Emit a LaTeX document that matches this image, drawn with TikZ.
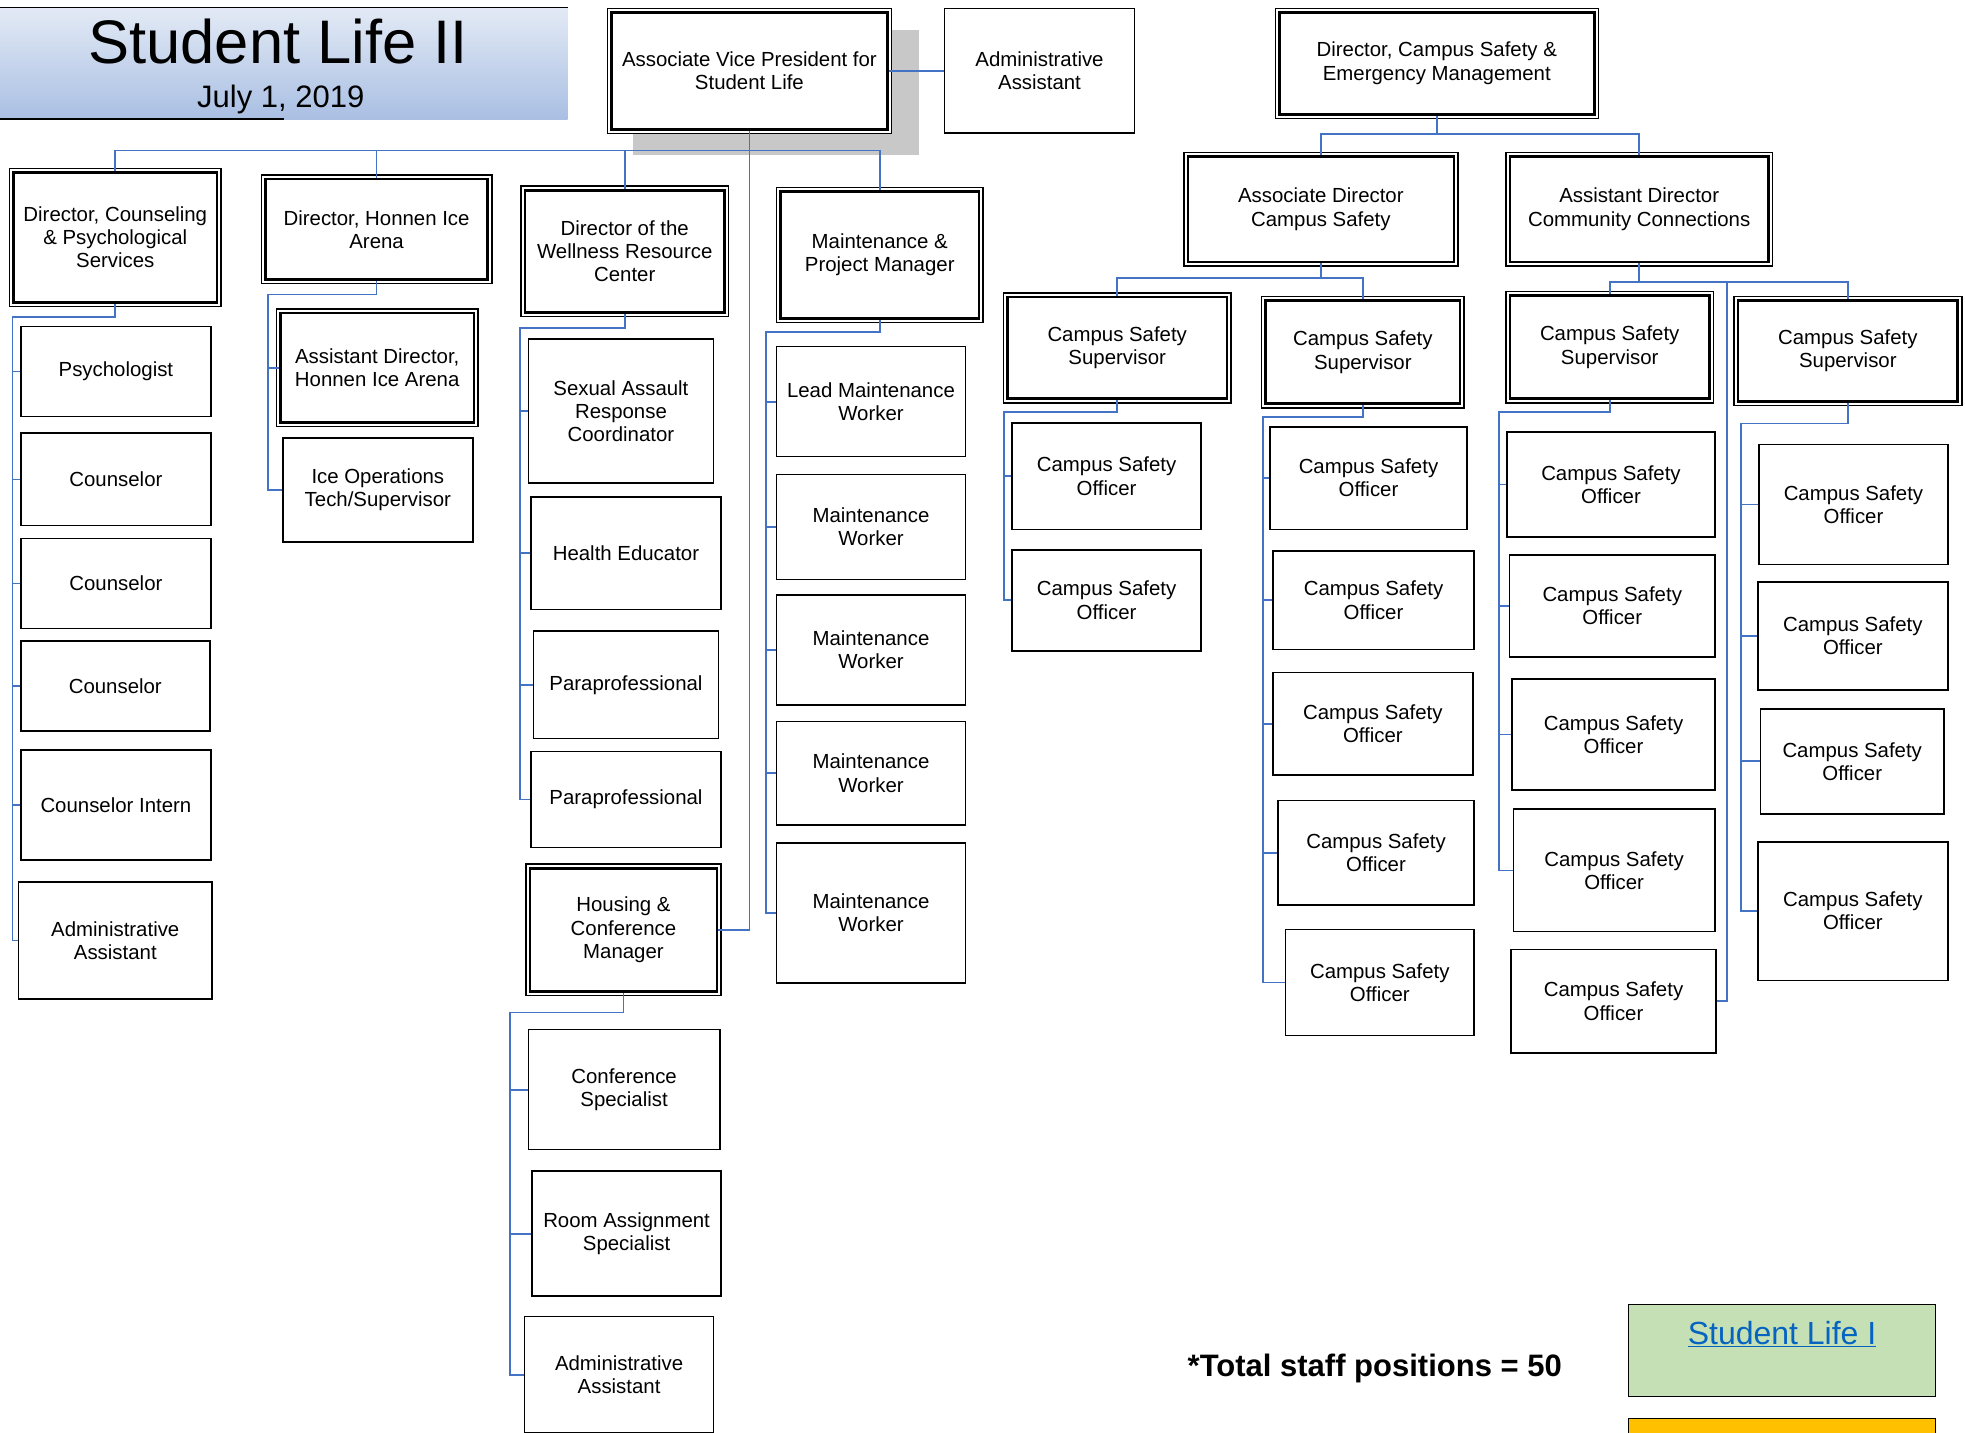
\documentclass[tikz,border=0pt]{standalone}
\usepackage{fontspec}
\setmainfont{Liberation Sans}

\definecolor{linkblue}{HTML}{4472C4}
\definecolor{shadowgray}{HTML}{C8C8C8}
\definecolor{bannertop}{HTML}{E3EAF5}
\definecolor{bannerbottom}{HTML}{A9BFE3}
\definecolor{slgreen}{HTML}{C5E0B4}
\definecolor{slorange}{HTML}{FFC000}
\definecolor{hyperblue}{HTML}{0563C1}

\tikzset{
	corners/.style n args={4}{at={({(#1+#3)/2},{(#2+#4)/2})},
		minimum width={(#3-#1)*1.2532pt-1.6pt}, minimum height={(#4-#2)*1.2532pt-1.6pt}},
	dcorners/.style n args={4}{at={({(#1+#3)/2},{(#2+#4)/2})},
		minimum width={(#3-#1)*1.2532pt-9.6pt}, minimum height={(#4-#2)*1.2532pt-9.6pt}},
	box/.style={draw, fill=white, line width=1.6pt, inner sep=1pt, align=center,
		font=\fontsize{20.4}{23.2}\selectfont},
	dbox/.style={box, line width=2.6pt,
		preaction={draw, line width=9.6pt}, preaction={draw=white, line width=6.6pt}},
	conn/.style={draw=linkblue, line width=1.7pt}
}

\begin{document}
\begin{tikzpicture}[x=1.2532pt, y=-1.2532pt]
\useasboundingbox (0,0) rectangle (1568,1142.7);
\clip (0,0) rectangle (1568,1142.7);

%title banner
\shade[top color=bannertop, bottom color=bannerbottom] (0,6) rectangle (453,95);
\draw[line width=1.5pt] (0,6) -- (453,6);
\draw[line width=1.5pt] (0,95) -- (227,95);
\node[anchor=base, inner sep=0pt, font=\fontsize{61.5}{61.5}\selectfont] (title) at (222,51) {Student Life II};
\node[anchor=base, inner sep=0pt, font=\fontsize{31}{31}\selectfont] (date) at (224,86) {July 1, 2019};

%vice president
\fill[shadowgray] (505,24) rectangle (733,124);
\node[dbox, dcorners={484}{6}{712}{107}] (avp) {Associate Vice President for\\Student Life};
\node[box, corners={753}{6}{906}{107}] (avpaa) {Administrative\\Assistant};

%directors
\node[dbox, dcorners={7}{134}{177}{245}] (dcp) {Director, Counseling\\\& Psychological\\Services};
\node[dbox, dcorners={208}{139}{393}{227}] (dhi) {Director, Honnen Ice\\Arena};
\node[dbox, dcorners={415}{148}{582}{253}] (dwr) {Director of the\\Wellness Resource\\Center};
\node[dbox, dcorners={619}{149}{785}{258}] (mpm) {Maintenance \&\\Project Manager};

%counseling staff
\node[box, corners={16}{260}{169}{333}] (psy) {Psychologist};
\node[box, corners={16}{345}{169}{420}] (coua) {Counselor};
\node[box, corners={16}{429}{169}{502}] (coub) {Counselor};
\node[box, corners={16}{511}{168}{584}] (couc) {Counselor};
\node[box, corners={16}{598}{169}{687}] (couint) {Counselor Intern};
\node[box, corners={14}{703}{170}{798}] (cpaa) {Administrative\\Assistant};

%ice arena staff
\node[dbox, dcorners={220}{246}{382}{341}] (adh) {Assistant Director,\\Honnen Ice Arena};
\node[box, corners={225}{349}{378}{433}] (ice) {Ice Operations\\Tech/Supervisor};

%wellness staff
\node[box, corners={421}{270}{570}{386}] (sar) {Sexual Assault\\Response\\Coordinator};
\node[box, corners={423}{396}{576}{487}] (hed) {Health Educator};
\node[box, corners={425}{503}{574}{590}] (ppa) {Paraprofessional};
\node[box, corners={423}{599}{576}{677}] (ppb) {Paraprofessional};

%housing
\node[dbox, dcorners={419}{689}{576}{795}] (hcm) {Housing \&\\Conference\\Manager};
\node[box, corners={421}{821}{575}{918}] (csp) {Conference\\Specialist};
\node[box, corners={424}{934}{576}{1035}] (ras) {Room Assignment\\Specialist};
\node[box, corners={418}{1050}{570}{1144}] (hcaa) {Administrative\\Assistant};

%maintenance staff
\node[box, corners={619}{276}{771}{365}] (lmw) {Lead Maintenance\\Worker};
\node[box, corners={619}{378}{771}{463}] (mwa) {Maintenance\\Worker};
\node[box, corners={619}{474}{771}{563}] (mwb) {Maintenance\\Worker};
\node[box, corners={619}{575}{771}{659}] (mwc) {Maintenance\\Worker};
\node[box, corners={619}{672}{771}{785}] (mwd) {Maintenance\\Worker};

%campus safety
\node[dbox, dcorners={1017}{6}{1276}{95}] (dcs) {Director, Campus Safety \&\\Emergency Management};
\node[dbox, dcorners={944}{121}{1164}{213}] (adc) {Associate Director\\Campus Safety};
\node[dbox, dcorners={1201}{121}{1415}{213}] (asd) {Assistant Director\\Community Connections};

%supervisors
\node[dbox, dcorners={800}{233}{983}{322}] (supa) {Campus Safety\\Supervisor};
\node[dbox, dcorners={1006}{236}{1169}{326}] (supb) {Campus Safety\\Supervisor};
\node[dbox, dcorners={1201}{232}{1368}{322}] (supc) {Campus Safety\\Supervisor};
\node[dbox, dcorners={1383}{236}{1566}{324}] (supd) {Campus Safety\\Supervisor};

%officers
\node[box, corners={807}{337}{959}{423}] (offaa) {Campus Safety\\Officer};
\node[box, corners={807}{438}{959}{520}] (offab) {Campus Safety\\Officer};

\node[box, corners={1013}{340}{1171}{423}] (offba) {Campus Safety\\Officer};
\node[box, corners={1015}{439}{1177}{519}] (offbb) {Campus Safety\\Officer};
\node[box, corners={1015}{536}{1176}{619}] (offbc) {Campus Safety\\Officer};
\node[box, corners={1019}{638}{1177}{723}] (offbd) {Campus Safety\\Officer};
\node[box, corners={1025}{741}{1177}{827}] (offbe) {Campus Safety\\Officer};

\node[box, corners={1202}{344}{1369}{429}] (offca) {Campus Safety\\Officer};
\node[box, corners={1204}{442}{1369}{525}] (offcb) {Campus Safety\\Officer};
\node[box, corners={1206}{541}{1369}{631}] (offcc) {Campus Safety\\Officer};
\node[box, corners={1207}{645}{1369}{744}] (offcd) {Campus Safety\\Officer};
\node[box, corners={1205}{757}{1370}{841}] (offce) {Campus Safety\\Officer};

\node[box, corners={1403}{354}{1555}{451}] (offda) {Campus Safety\\Officer};
\node[box, corners={1402}{464}{1555}{551}] (offdb) {Campus Safety\\Officer};
\node[box, corners={1404}{565}{1552}{650}] (offdc) {Campus Safety\\Officer};
\node[box, corners={1402}{671}{1555}{783}] (offdd) {Campus Safety\\Officer};

%connectors student life
\coordinate (vpbus) at (0,120);
\draw[conn] (avp.east) -- (avpaa.west);
\draw[conn] (dcp.north) -- (dcp.north |- vpbus) -| (mpm.north);
\draw[conn] (dhi.north) -- (dhi.north |- vpbus);
\draw[conn] (dwr.north) -- (dwr.north |- vpbus);
\draw[conn] (avp.south) |- (hcm.east);

\coordinate (cpbus) at (10,253);
\draw[conn] (dcp.south) |- (cpbus) |- (psy.west);
\draw[conn] (cpbus) |- (coua.west);
\draw[conn] (cpbus) |- (coub.west);
\draw[conn] (cpbus) |- (couc.west);
\draw[conn] (cpbus) |- (couint.west);
\draw[conn] (cpbus) |- (cpaa.west);

\coordinate (hibus) at (214,235);
\draw[conn] (dhi.south) |- (hibus) |- (adh.west);
\draw[conn] (hibus) |- (ice.west);

\coordinate (wrbus) at (415,262);
\draw[conn] (dwr.south) |- (wrbus) |- (sar.west);
\draw[conn] (wrbus) |- (hed.west);
\draw[conn] (wrbus) |- (ppa.west);
\draw[conn] (wrbus) |- (ppb.west);

\coordinate (hcbus) at (407,808);
\draw[conn] (hcm.south) |- (hcbus) |- (csp.west);
\draw[conn] (hcbus) |- (ras.west);
\draw[conn] (hcbus) |- (hcaa.west);

\coordinate (mpbus) at (611,265);
\draw[conn] (mpm.south) |- (mpbus) |- (lmw.west);
\draw[conn] (mpbus) |- (mwa.west);
\draw[conn] (mpbus) |- (mwb.west);
\draw[conn] (mpbus) |- (mwc.west);
\draw[conn] (mpbus) |- (mwd.west);

%connectors campus safety
\coordinate (csbus) at (0,107);
\draw[conn] (dcs.south) -- (dcs.south |- csbus);
\draw[conn] (adc.north) -- (adc.north |- csbus) -| (asd.north);

\coordinate (adbus) at (0,222);
\draw[conn] (adc.south) -- (adc.south |- adbus);
\draw[conn] (supa.north) -- (supa.north |- adbus) -| (supb.north);

\coordinate (asbus) at (0,225);
\coordinate (asdrop) at (1378,225);
\draw[conn] (asd.south) -- (asd.south |- asbus);
\draw[conn] (supc.north) -- (supc.north |- asbus) -| (supd.north);
\draw[conn] (asdrop) |- (offce.east);

\coordinate (sabus) at (801,329);
\draw[conn] (supa.south) |- (sabus) |- (offaa.west);
\draw[conn] (sabus) |- (offab.west);

\coordinate (sbbus) at (1008,333);
\draw[conn] (supb.south) |- (sbbus) |- (offba.west);
\draw[conn] (sbbus) |- (offbb.west);
\draw[conn] (sbbus) |- (offbc.west);
\draw[conn] (sbbus) |- (offbd.west);
\draw[conn] (sbbus) |- (offbe.west);

\coordinate (scbus) at (1196,329);
\draw[conn] (supc.south) |- (scbus) |- (offca.west);
\draw[conn] (scbus) |- (offcb.west);
\draw[conn] (scbus) |- (offcc.west);
\draw[conn] (scbus) |- (offcd.west);

\coordinate (sdbus) at (1389,338);
\draw[conn] (supd.south) |- (sdbus) |- (offda.west);
\draw[conn] (sdbus) |- (offdb.west);
\draw[conn] (sdbus) |- (offdc.west);
\draw[conn] (sdbus) |- (offdd.west);

%total and links
\node[anchor=base, inner sep=0pt, font=\bfseries\fontsize{31}{31}\selectfont] (total) at (1097,1098) {*Total staff positions = 50};
\node[draw, line width=1.2pt, fill=slgreen, corners={1299}{1040}{1545}{1115}] (slone) {};
\node[anchor=base, inner sep=0pt, text=hyperblue, font=\fontsize{32}{32}\selectfont] (slonetxt) at (1422,1073) {\underline{Student Life I}};
\node[draw, line width=1.2pt, fill=slorange, corners={1299}{1131}{1545}{1160}] (sltwo) {};

\end{tikzpicture}
\end{document}
